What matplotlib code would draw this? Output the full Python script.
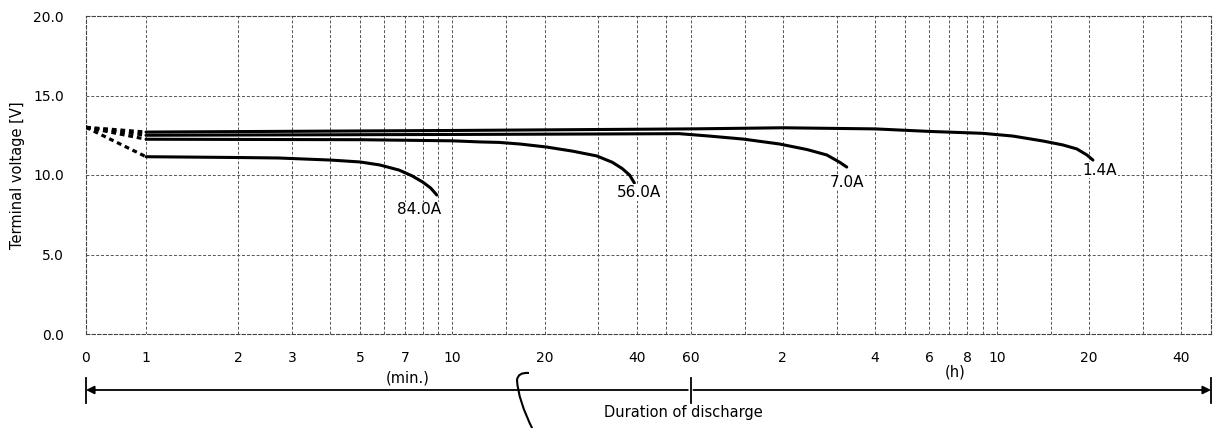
import numpy as np
import matplotlib
matplotlib.use('Agg')
import matplotlib.pyplot as plt
from matplotlib import transforms
from matplotlib.path import Path
from matplotlib.patches import PathPatch, FancyArrowPatch

# discharge curves, time in minutes, voltage in V
t_84 = [1, 2, 2.7, 4, 5, 5.8, 6.7, 7.4, 8.0, 8.5, 8.9]
v_84 = [11.15, 11.1, 11.07, 10.94, 10.82, 10.63, 10.31, 9.94, 9.56, 9.18, 8.74]
t_56 = [1, 5, 10, 12.3, 14.2, 16.6, 20.3, 24.7, 29.6, 33.3, 35.9, 37.9, 39.3]
v_56 = [12.25, 12.22, 12.15, 12.08, 12.05, 11.95, 11.76, 11.5, 11.2, 10.8,
        10.4, 10.0, 9.5]
t_7 = [1, 10, 30, 55, 69, 89, 117, 144, 167, 184, 194]
v_7 = [12.5, 12.55, 12.58, 12.6, 12.45, 12.26, 11.95, 11.6, 11.26, 10.8, 10.5]
t_14 = [1, 10, 60, 120, 240, 362, 540, 676, 847, 985, 1094, 1180, 1235]
v_14 = [12.7, 12.8, 12.9, 12.97, 12.9, 12.74, 12.62, 12.45, 12.14, 11.89,
        11.64, 11.26, 10.94]
v_open = 13.0  # value at t=0

curves = [(t_84, v_84, '84.0A', (7.8, 7.8)),
          (t_56, v_56, '56.0A', (40.8, 8.9)),
          (t_7, v_7, '7.0A', (195, 9.55)),
          (t_14, v_14, '1.4A', (1300, 10.3))]

grid_t = [1, 2, 3, 4, 5, 6, 7, 8, 9, 10, 15, 20, 30, 40, 50, 60, 90, 120, 180,
          240, 300, 360, 420, 480, 540, 600, 900, 1200, 1800, 2400]
tick_t = [0, 1, 2, 3, 5, 7, 10, 20, 40, 60, 120, 240, 360, 480, 600, 1200, 2400]
tick_lbl = ['0', '1', '2', '3', '5', '7', '10', '20', '40', '60',
            '2', '4', '6', '8', '10', '20', '40']
y_ticks = [0, 5, 10, 15, 20]
y_lbl = ['0.0', '5.0', '10.0', '15.0', '20.0']

K = 0.196  # width of the 0..1 min part, in decades


def fwd(t):
    t = np.asarray(t, dtype=float)
    return np.where(t >= 1, np.log10(np.maximum(t, 1e-9)), (t - 1) * K)


def inv(u):
    u = np.asarray(u, dtype=float)
    return np.where(u >= 0, 10 ** u, u / K + 1)


W, H = 1213, 428
fig = plt.figure(figsize=(W / 100, H / 100), dpi=100)
ax = fig.add_axes([86 / W, 1 - 334 / H, (1211 - 86) / W, (334 - 16) / H])
ax.set_xscale('function', functions=(fwd, inv))
ax.set_xlim(0, 3000)
ax.set_ylim(0, 20)

gstyle = dict(color='#555555', lw=0.7, ls=(0, (3, 2)), zorder=1)
for g in grid_t:
    ax.axvline(g, **gstyle)
for g in [5, 10, 15]:
    ax.axhline(g, **gstyle)
for s in ax.spines.values():
    s.set_linestyle((0, (3, 2)))
    s.set_linewidth(0.8)
    s.set_color('#444444')

for t, v, name, pos in curves:
    ax.plot([0, t[0]], [v_open, v[0]], color='black', lw=2.3,
            ls=(0, (1.5, 1.2)), zorder=3)
    ax.plot(t, v, color='black', lw=2.2, zorder=3, solid_capstyle='round',
            solid_joinstyle='round')
    ax.text(pos[0], pos[1], name, ha='center', va='center', fontsize=11,
            zorder=4, bbox=dict(facecolor='white', edgecolor='none', pad=0.5))

ax.set_xticks(tick_t)
ax.set_xticklabels(tick_lbl)
ax.set_yticks(y_ticks)
ax.set_yticklabels(y_lbl)
ax.minorticks_off()
ax.tick_params(axis='x', length=0, pad=12, labelsize=10)
ax.tick_params(axis='y', length=0, pad=16, labelsize=10)
ax.set_ylabel('Terminal voltage [V]', fontsize=10.5, labelpad=6)

fig.text(408 / W, 1 - 378 / H, '(min.)', ha='center', va='center', fontsize=10.5)
fig.text(955 / W, 1 - 372 / H, '(h)', ha='center', va='center', fontsize=10.5)
fig.text(683 / W, 1 - 413 / H, 'Duration of discharge', ha='center',
         va='center', fontsize=10.5)

# duration arrows under the axis
tr = transforms.blended_transform_factory(ax.transData, fig.transFigure)
ya = 1 - 390 / H
for a, b in [(60, 0), (60, 3000)]:
    fig.add_artist(FancyArrowPatch((a, ya), (b, ya), transform=tr,
                                   arrowstyle='-|>', mutation_scale=12,
                                   color='black', lw=1.3, shrinkA=2, shrinkB=0))
for x in [0, 60, 3000]:
    fig.add_artist(plt.Line2D([x, x], [1 - 378 / H, 1 - 403 / H], transform=tr,
                              color='black', lw=1.3))

# curved leader line
pts = [(533, 430), (518, 400), (517, 380), (518, 372), (529, 373)]
verts = [(x / W, 1 - y / H) for x, y in pts]
codes = [Path.MOVETO, Path.CURVE3, Path.CURVE3, Path.CURVE3, Path.CURVE3]
fig.add_artist(PathPatch(Path(verts, codes), transform=fig.transFigure,
                         fill=False, lw=1.5, color='black'))

fig.savefig('out.png', dpi=100)
